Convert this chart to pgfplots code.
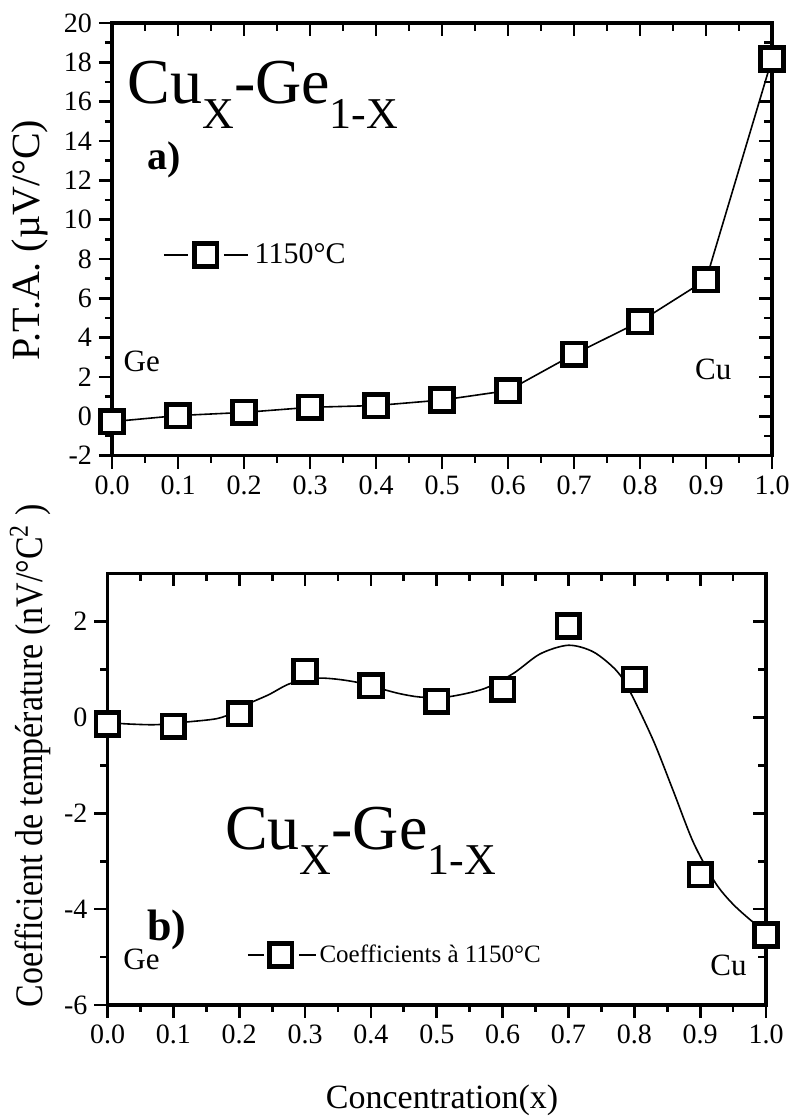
\documentclass[border=0pt]{standalone}
\usepackage{fontspec}
\setmainfont{Liberation Serif}
\newfontfamily\condensed[FakeStretch=0.87]{Liberation Serif}
\usepackage{pgfplots}
\usepackage{pgfplotstable}
\pgfplotsset{compat=1.18}

\pgfplotstableread{
x y
0.0 -0.27
0.1 0.04
0.2 0.20
0.3 0.46
0.4 0.55
0.5 0.83
0.6 1.31
0.7 3.16
0.8 4.82
0.9 6.94
1.0 18.17
}\ptadata

\pgfplotstableread{
x y
0.0 -0.14
0.1 -0.19
0.2 0.07
0.3 0.96
0.4 0.66
0.5 0.33
0.6 0.58
0.7 1.90
0.8 0.79
0.9 -3.28
1.0 -4.54
}\coefdata

\pgfplotstableread{
x y
0.000 -0.10
0.014 -0.125
0.039 -0.146
0.075 -0.155
0.120 -0.10
0.166 -0.03
0.192 0.10
0.214 0.28
0.245 0.47
0.277 0.70
0.315 0.81
0.343 0.80
0.378 0.73
0.416 0.59
0.444 0.49
0.475 0.42
0.515 0.42
0.571 0.59
0.616 0.91
0.657 1.32
0.700 1.50
0.738 1.36
0.773 0.97
0.794 0.52
0.829 -0.49
0.859 -1.53
0.890 -2.62
0.923 -3.45
0.950 -3.90
0.981 -4.28
0.995 -4.40
}\coefcurve

\newcommand{\bigformula}{\fontsize{32}{32}\selectfont Cu\raisebox{-12.5pt}{\fontsize{22}{22}\selectfont X}-Ge\raisebox{-12.5pt}{\fontsize{22}{22}\selectfont 1-X}}

\pgfplotsset{
  base/.style={
    scale only axis, clip=false,
    font=\fontsize{14}{14}\selectfont,
    axis line style={line width=1.6pt},
    tick style={line width=1.4pt, black},
    /pgf/number format/assume math mode=true,
    xmin=0, xmax=1,
    xtick={0,0.1,0.2,0.3,0.4,0.5,0.6,0.7,0.8,0.9,1},
    minor x tick num=1, minor y tick num=1,
    xticklabel style={/pgf/number format/.cd, fixed, fixed zerofill, precision=1},
  },
  outer/.style={xtick pos=bottom, ytick pos=left, tick align=outside,
    major tick length=6.5pt, minor tick length=3.5pt},
  inner/.style={xtick pos=top, ytick pos=right, tick align=inside,
    major tick length=6.5pt, minor tick length=4pt,
    xticklabels={}, yticklabels={}},
  mymark/.style={mark=square*, mark size=5.65pt,
    mark options={fill=white, draw=black, line width=2.3pt, solid}},
}

\begin{document}
\begin{tikzpicture}
\useasboundingbox (0pt,0pt) rectangle (396pt,559pt);

% ---------- top panel ----------
\begin{axis}[base, inner, at={(56pt,331.15pt)}, anchor=south west,
  width=330pt, height=216.35pt, ymin=-2, ymax=20, ytick={-2,0,...,20}]
\end{axis}
\begin{axis}[base, outer, at={(56pt,331.15pt)}, anchor=south west,
  width=330pt, height=216.35pt, ymin=-2, ymax=20, ytick={-2,0,...,20},
  ylabel={P.T.A. (µV/°C)},
  ylabel style={at={(axis description cs:-0.1106,0.4985)}, anchor=base,
    font=\fontsize{20}{20}\selectfont},
  legend style={at={(0.0773,0.4638)}, anchor=west, draw=none, fill=none,
    inner sep=0pt, outer sep=0pt, nodes={inner sep=0pt},
    font=\fontsize{15}{15}\selectfont},
  legend image code/.code={
    \draw[black, line width=0.8pt] (0pt,0pt) -- (12pt,0pt);
    \draw[black, line width=0.8pt] (30pt,0pt) -- (42pt,0pt);
    \draw[#1] plot coordinates {(21pt,0pt)};
  },
]
\addplot[black, line width=0.8pt, mymark] table {\ptadata};
\addlegendentry{\hspace{3pt}1150°C}
\node[anchor=base west, inner sep=0pt] at (axis cs:0.023,15.93) {\bigformula};
\node[anchor=base west, inner sep=0pt, font=\fontsize{20}{20}\selectfont\bfseries] at (axis cs:0.053,12.53) {a)};
\node[anchor=base west, inner sep=0pt, font=\fontsize{15.5}{16}\selectfont] at (axis cs:0.017,2.26) {Ge};
\node[anchor=base west, inner sep=0pt, font=\fontsize{15.5}{16}\selectfont] at (axis cs:0.883,1.85) {Cu};
\end{axis}

% ---------- bottom panel ----------
\begin{axis}[base, inner, at={(53.75pt,56.5pt)}, anchor=south west,
  width=329.25pt, height=215.85pt, ymin=-6, ymax=3, ytick={-6,-4,...,2}]
\end{axis}
\begin{axis}[base, outer, at={(53.75pt,56.5pt)}, anchor=south west,
  width=329.25pt, height=215.85pt, ymin=-6, ymax=3, ytick={-6,-4,...,2},
  ylabel={\condensed Coefficient de température (nV/°C\textsuperscript{2} )},
  ylabel style={at={(axis description cs:-0.098,0.577)}, anchor=base,
    font=\fontsize{19.5}{20}\selectfont},
  xlabel={Concentration(x)},
  xlabel style={at={(axis description cs:0.508,-0.2386)}, anchor=base,
    font=\fontsize{17}{17}\selectfont},
  legend style={at={(0.2118,0.1158)}, anchor=west, draw=none, fill=none,
    inner sep=0pt, outer sep=0pt, nodes={inner sep=0pt},
    font=\fontsize{12.5}{13}\selectfont},
  legend image code/.code={
    \draw[black, line width=0.8pt] (0pt,0pt) -- (8pt,0pt);
    \draw[black, line width=0.8pt] (25.5pt,0pt) -- (34pt,0pt);
    \draw[#1] plot coordinates {(16.5pt,0pt)};
  },
]
\addplot[black, line width=0.8pt, smooth, forget plot] table {\coefcurve};
\addplot[only marks, mymark] table {\coefdata};
\addlegendentry{\hspace{1.5pt}Coefficients à 1150°C}
\node[anchor=base west, inner sep=0pt] at (axis cs:0.178,-2.75) {\bigformula};
\node[anchor=base west, inner sep=0pt, font=\fontsize{22}{22}\selectfont\bfseries] at (axis cs:0.06,-4.66) {b)};
\node[anchor=base west, inner sep=0pt, font=\fontsize{15.5}{16}\selectfont] at (axis cs:0.0235,-5.25) {Ge};
\node[anchor=base west, inner sep=0pt, font=\fontsize{15.5}{16}\selectfont] at (axis cs:0.915,-5.39) {Cu};
\end{axis}
\end{tikzpicture}
\end{document}
